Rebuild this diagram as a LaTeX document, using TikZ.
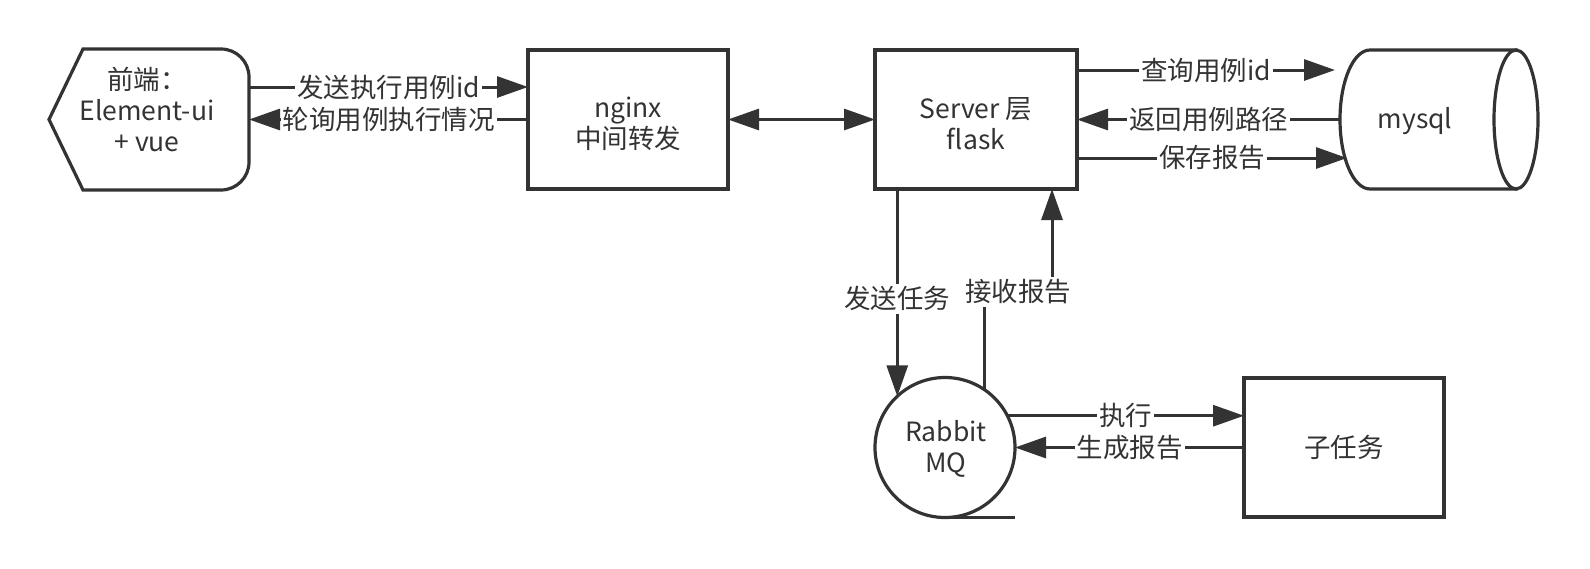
\documentclass[tikz,border=0pt]{standalone}
\usepackage{fontspec}
\setmainfont{Noto Sans CJK SC}
\usetikzlibrary{arrows.meta}
\definecolor{ink}{HTML}{333333}
\begin{document}
\begin{tikzpicture}[x=1pt,y=-1pt,
  every node/.style={text=ink, font=\fontsize{26.5}{31}\selectfont},
  shapeline/.style={draw=ink, line width=3.2pt},
  box/.style={shapeline, fill=white, minimum width=200pt, minimum height=139pt, inner sep=0pt, outer sep=0pt, align=center},
  ghost/.style={minimum height=139pt, inner sep=0pt, outer sep=0pt},
  txt/.style={align=center, inner sep=0pt},
  conn/.style={draw=ink, line width=3pt},
  arr/.style={conn, -{Triangle[length=31pt,width=21pt]}},
  darr/.style={conn, {Triangle[length=31pt,width=21pt]}-{Triangle[length=31pt,width=21pt]}},
  lbl/.style={fill=white, inner xsep=2pt, inner ysep=3pt},
]
\fill[white] (0,0) rectangle (1590,568);
\useasboundingbox (0,0) rectangle (1590,568);

% front-end display shape
\draw[shapeline, fill=white] (49,119.5) -- (83,49) -- (221,49)
  .. controls (236.5,49) and (249,61.5) .. (249,77) -- (249,162)
  .. controls (249,177.5) and (236.5,190) .. (221,190) -- (83,190) -- cycle;
\node[ghost, minimum width=200pt, minimum height=141pt] (front) at (149,119.5) {};
\node[txt] (fronttext) at (147,109.5) {前端：\\Element-ui\\+ vue};

% nginx and server
\node[box] (nginx) at (628,119.5) {};
\node[txt] (nginxtext) at (628,124) {nginx\\中间转发};
\node[box, minimum width=202pt] (server) at (976,119.5) {};
\node[txt] (servertext) at (976,124) {Server 层\\flask};

% mysql cylinder
\draw[shapeline, fill=white] (1370,50) -- (1516,50) -- (1516,189) -- (1370,189)
  .. controls (1353.4,189) and (1340,157.9) .. (1340,119.5)
  .. controls (1340,81.1) and (1353.4,50) .. cycle;
\draw[shapeline, fill=white] (1516,119.5) ellipse [x radius=22pt, y radius=69.5pt];
\node[ghost, minimum width=199pt] (mysql) at (1439.5,119.5) {};
\node[txt] (mysqltext) at (1415,121) {mysql};

% rabbit MQ
\node[shapeline, circle, fill=white, minimum size=140pt, inner sep=0pt, outer sep=0pt] (rabbit) at (945,447.5) {};
\node[txt] (rabbittext) at (946,449) {Rabbit\\MQ};
\draw[shapeline] (rabbit.south) -- (rabbit.south -| rabbit.east);

% sub task
\node[box] (sub) at (1344,447.5) {子任务};

% connectors
\draw[arr] ([yshift=32.5pt]front.east) -- node[lbl]{发送执行用例id} ([yshift=32.5pt]nginx.west);
\draw[arr] (nginx.west) -- node[lbl]{轮询用例执行情况} (front.east);
\draw[darr] (nginx.east) -- (server.west);
\draw[arr] ([yshift=49.5pt]server.east) -- node[lbl]{查询用例id} ([yshift=49.5pt,xshift=-5pt]mysql.west);
\draw[arr] (mysql.west) -- node[lbl]{返回用例路径} (server.east);
\draw[arr] ([yshift=-38.5pt]server.east) -- node[lbl]{保存报告} ([yshift=-38.5pt,xshift=7pt]mysql.west);

\draw[arr] (rabbit.133.3 |- server.south) -- node[lbl, pos=0.53]{发送任务} (rabbit.133.3);
\coordinate (jog) at (1018,292);
\draw[arr] (rabbit.56.1) |- (jog) -| ([xshift=76pt]server.south);
\node[lbl] (recvlabel) at (jog) {接收报告};

\draw[arr] (rabbit.27.7) -- node[lbl]{执行} (rabbit.27.7 -| sub.west);
\draw[arr] (sub.west) -- node[lbl]{生成报告} (rabbit.east);
\end{tikzpicture}
\end{document}
